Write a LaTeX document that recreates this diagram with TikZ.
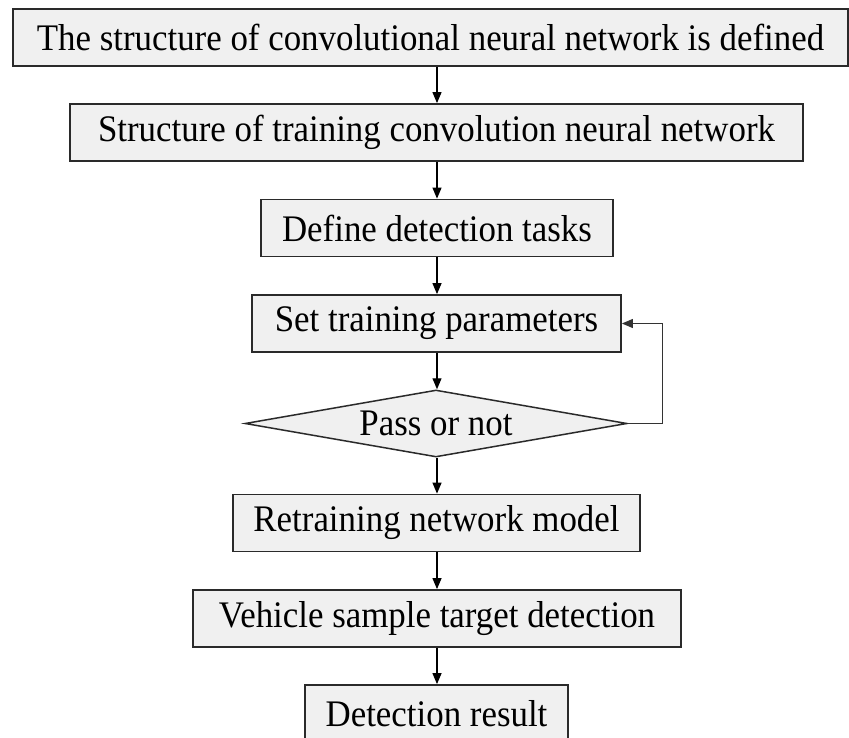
\documentclass[tikz,border=0pt]{standalone}
\usepackage{fontspec}
\setmainfont[FakeStretch=0.93]{Liberation Serif}
\usetikzlibrary{shapes.geometric,arrows.meta}
\definecolor{boxfill}{HTML}{F0F0F0}
\definecolor{boxline}{HTML}{2A2A2A}
\begin{document}
\begin{tikzpicture}[x=1pt,y=1pt,
  stepbox/.style={draw=boxline,fill=boxfill,line width=1.8pt,rectangle,inner sep=0pt,minimum height=57pt,font=\fontsize{37.5}{42}\selectfont},
  decision/.style={draw=boxline,fill=boxfill,line width=1.5pt,diamond,inner sep=0pt,minimum width=382pt,minimum height=67pt,aspect=5.7,font=\fontsize{37.5}{42}\selectfont},
  flow/.style={draw=black,line width=1.2pt,-{Triangle[length=11pt,width=9pt]}},
  loopline/.style={draw=black!80,line width=1pt,-{Triangle[length=11pt,width=9pt]}}]
\useasboundingbox (0,0) rectangle (849,-738);
\node[stepbox,minimum width=835pt] (b1) at (430.5,-37.5) {The structure of convolutional neural network is defined};
\node[stepbox,minimum width=733pt] (b2) at (436.5,-132.5) {Structure of training convolution neural network};
\node[stepbox,minimum width=352pt] (b3) at (437,-228) {Define detection tasks};
\node[stepbox,minimum width=369pt] (b4) at (436.5,-323.5) {Set training parameters};
\node[decision] (d) at (436,-423.5) {Pass or not};
\node[stepbox,minimum width=407pt] (b5) at (436.5,-523) {Retraining network model};
\node[stepbox,minimum width=488pt] (b6) at (437,-618.5) {Vehicle sample target detection};
\node[stepbox,minimum width=263pt] (b7) at (436.5,-713.5) {Detection result};
\coordinate (fb) at (662,-423.5);
\draw[flow] (b1.south -| b3.center) -- (b2.north -| b3.center);
\draw[flow] (b2.south -| b3.center) -- (b3.north);
\draw[flow] (b3.south) -- (b4.north -| b3.center);
\draw[flow] (b4.south -| b3.center) -- (d.north -| b3.center);
\draw[flow] (d.south -| b3.center) -- (b5.north -| b3.center);
\draw[flow] (b5.south -| b3.center) -- (b6.north);
\draw[flow] (b6.south) -- (b7.north -| b6.center);
\draw[loopline] (d.east) -- (fb) |- (b4.east);
\end{tikzpicture}
\end{document}
